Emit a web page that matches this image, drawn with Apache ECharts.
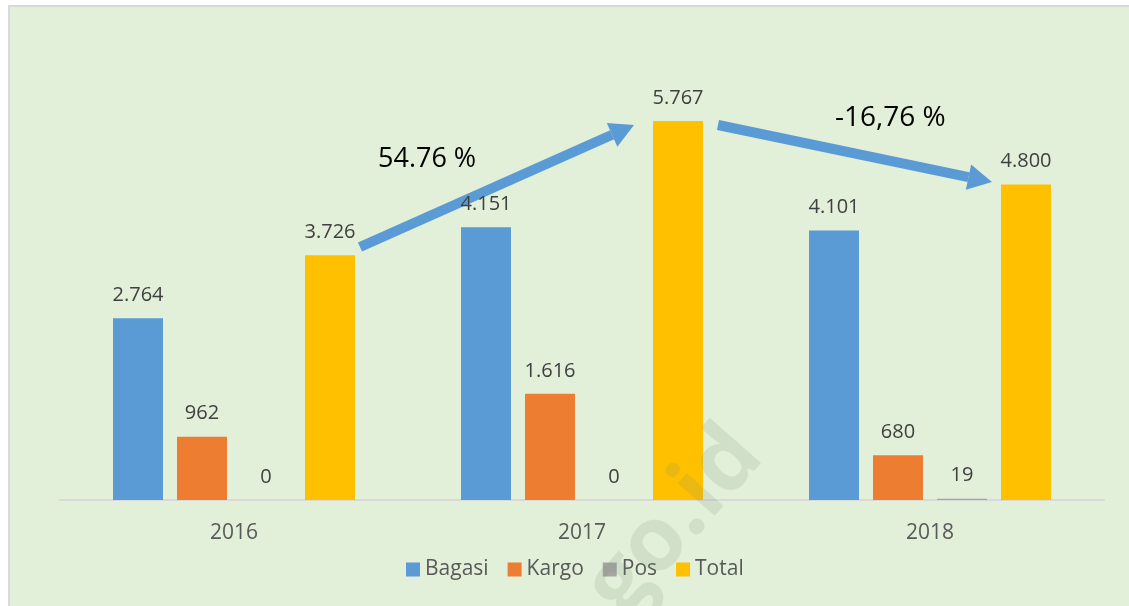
<!DOCTYPE html>
<html>
<head>
<meta charset="utf-8">
<script src="https://cdn.jsdelivr.net/npm/echarts@6/dist/echarts.min.js"></script>
<style>
  html, body { margin: 0; padding: 0; background: #ffffff; }
  #chart { position: absolute; left: 8px; top: 5px; width: 1125px; height: 605px;
           background: #E2EFD9; border: 2px solid #D9D9D9; box-sizing: border-box; }
</style>
</head>
<body>
<div id="chart"></div>
<script>
const years = ['2016', '2017', '2018'];
const bagasi = [2764, 4151, 4101];
const kargo = [962, 1616, 680];
const pos = [0, 0, 19];
const total = [3726, 5767, 4800];

const fmt = v => String(v.value).replace(/\B(?=(\d{3})+(?!\d))/g, '.');

function bar(name, data, color) {
    return {
        name: name,
        type: 'bar',
        data: data,
        barWidth: 50,
        barGap: '28%',
        itemStyle: { color: color },
        label: {
            show: true,
            position: 'top',
            distance: 13,
            formatter: fmt,
            color: '#404040',
            fontSize: 20,
            fontFamily: 'Open Sans'
        }
    };
}

const myChart = echarts.init(document.getElementById('chart'));

function arrow(x1, y1, x2, y2) {
    const ang = Math.atan2(y2 - y1, x2 - x1);
    const len = 24, half = 13;
    const bx = x2 - len * Math.cos(ang), by = y2 - len * Math.sin(ang);
    const nx = -Math.sin(ang), ny = Math.cos(ang);
    return [
        { type: 'line', shape: { x1: x1, y1: y1, x2: bx, y2: by },
          style: { stroke: '#5B9BD5', lineWidth: 10 } },
        { type: 'polygon',
          shape: { points: [[x2, y2], [bx + nx * half, by + ny * half], [bx - nx * half, by - ny * half]] },
          style: { fill: '#5B9BD5' } }
    ];
}

const option = {
    animation: false,
    grid: { left: 50, right: 27, top: 33, bottom: 108 },
    xAxis: {
        type: 'category',
        data: years,
        axisLine: { lineStyle: { color: '#D9D9D9', width: 2 } },
        axisTick: { show: false },
        axisLabel: { color: '#595959', fontSize: 21, fontFamily: 'Open Sans', margin: 23 }
    },
    yAxis: {
        type: 'value',
        min: 0,
        max: 7000,
        show: false,
        splitLine: { show: false }
    },
    legend: {
        top: 547,
        left: 391,
        itemWidth: 14,
        itemHeight: 14,
        itemGap: 19,
        icon: 'rect',
        textStyle: { color: '#595959', fontSize: 21, fontFamily: 'Open Sans' }
    },
    series: [
        bar('Bagasi', bagasi, '#5B9BD5'),
        bar('Kargo', kargo, '#ED7D31'),
        bar('Pos', pos, '#A5A5A5'),
        bar('Total', total, '#FFC000')
    ],
    graphic: [
        ...arrow(350, 240, 624, 118),
        ...arrow(708, 118, 982, 175),
        { type: 'text', left: 368, top: 139,
          style: { text: '54.76 %', fontSize: 27, fontFamily: 'Open Sans', fill: '#000000' } },
        { type: 'text', left: 825, top: 97,
          style: { text: '-16,76 %', fontSize: 28, fontFamily: 'Open Sans', fill: '#000000' } },
        { type: 'text', left: 438, top: 404, rotation: 0.85, z: 200,
          style: { text: 'bps.go.id', fontSize: 90, fontWeight: 'bold', fontFamily: 'Open Sans',
                   fill: 'rgba(120,140,110,0.16)' } }
    ]
};
myChart.setOption(option);
</script>
</body>
</html>
